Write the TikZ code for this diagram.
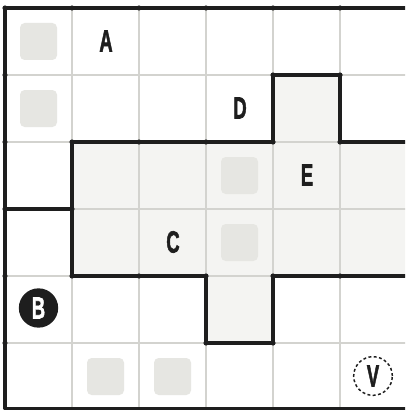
\documentclass[tikz,border=0pt]{standalone}
\usepackage{fontspec}
\setmainfont{Liberation Sans}
\newfontfamily\lblfont[BoldFeatures={FakeBold=2.2}]{Liberation Sans}
\definecolor{ink}{HTML}{1E1E1E}
\definecolor{gridgray}{HTML}{D3D3CF}
\definecolor{tilegray}{HTML}{E6E6E2}
\definecolor{roomgray}{HTML}{F4F4F2}
\newcommand{\cond}[1]{\scalebox{0.6}[1]{#1}}
\begin{document}
\begin{tikzpicture}[x=0.75pt,y=-0.75pt,
  gridline/.style={draw=gridgray,line width=0.9pt},
  wall/.style={draw=ink,line width=2.4pt,line cap=round,line join=round},
  tile/.style={fill=tilegray,rounded corners=3.5pt},
  joint/.style={fill=ink},
  lbl/.style={font=\lblfont\bfseries\fontsize{23}{23}\selectfont,text=ink,inner sep=0pt},
  badge/.style={circle,fill=ink,minimum size=29.5pt,inner sep=0pt,font=\lblfont\bfseries\fontsize{23}{23}\selectfont,text=white},
  vbadge/.style={circle,draw=ink,line width=1.1pt,dash pattern=on 2.2pt off 1.8pt,minimum size=29pt,inner sep=0pt,font=\lblfont\bfseries\fontsize{23}{23}\selectfont,text=ink}]
\useasboundingbox (0,0) rectangle (405,410);
\fill[white] (0,0) rectangle (405,410);
\begin{scope}
\clip (0,0) rectangle (405,410);
% shaded room
\fill[roomgray] (72,142) -- (273,142) -- (273,75) -- (340,75) -- (340,142) -- (412,142) -- (412,276) -- (273,276) -- (273,343) -- (206,343) -- (206,276) -- (72,276) -- cycle;
% grid
\foreach \x in {72,139,206,273,340} \draw[gridline] (\x,8) -- (\x,412);
\foreach \y in {75,142,209,276,343} \draw[gridline] (5,\y) -- (412,\y);
% tiles
\foreach \cx/\cy in {38.5/41.5, 38.5/108.5, 239.5/175.5, 239.5/242.5, 105.5/376.5, 172.5/376.5}
  \fill[tile] (\cx-18.5,\cy-18.5) rectangle (\cx+18.5,\cy+18.5);
% outer walls
\draw[wall] (412,8) -- (5,8) -- (5,408.5) -- (412,408.5);
% inner walls
\draw[wall] (5,209) -- (72,209);
\draw[wall] (72,142) -- (72,276) -- (206,276) -- (206,343) -- (273,343) -- (273,276) -- (412,276);
\draw[wall] (72,142) -- (273,142) -- (273,75) -- (340,75) -- (340,142) -- (412,142);
% joints
\foreach \x in {5,72,139,206,273,340} \fill[joint] (\x,8) circle (2.6);
\foreach \y in {75,142,209,276,343} \fill[joint] (5,\y) circle (2.6);
\foreach \p in {(72,209),(72,142),(72,276),(139,276),(206,276),(206,343),(273,343),(273,276),(340,276),(139,142),(206,142),(273,142),(273,75),(340,75),(340,142)}
  \fill[joint] \p circle (2.6);
\end{scope}
% labels
\node[lbl] (A) at (106,41) {\cond{A}};
\node[lbl] (D) at (240,108) {\cond{D}};
\node[lbl] (E) at (307,175) {\cond{E}};
\node[lbl] (C) at (173,242) {\cond{C}};
\node[badge] (B) at (38.5,308) {\cond{B}};
\node[vbadge] (V) at (373,376) {\cond{V}};
\end{tikzpicture}
\end{document}
